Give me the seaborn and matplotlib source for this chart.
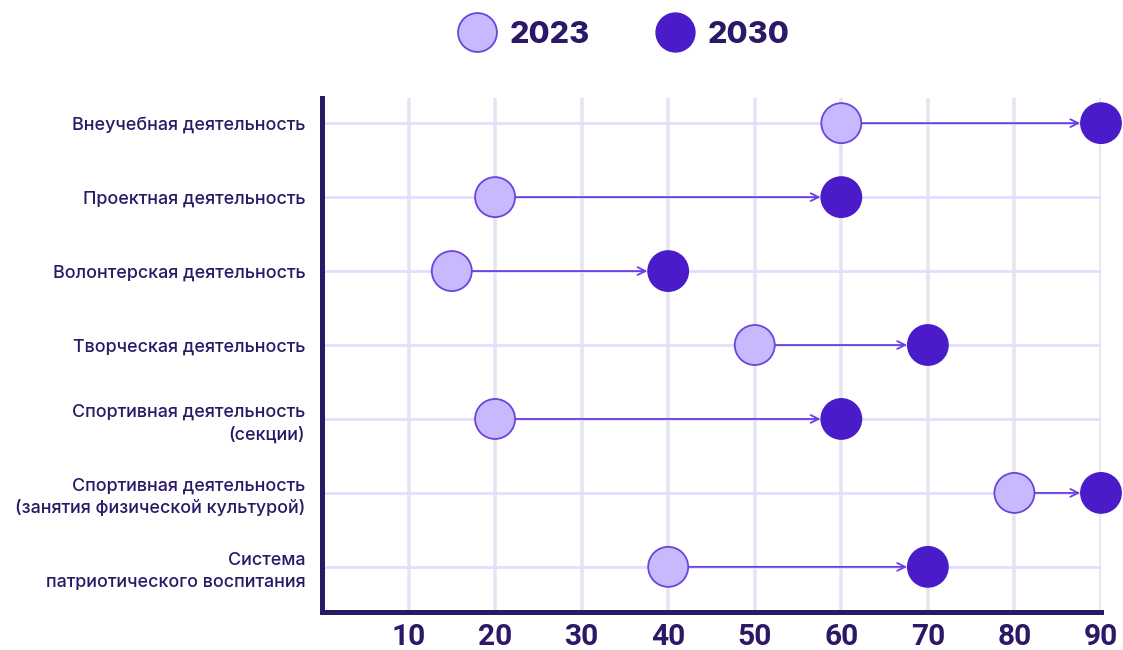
import pandas as pd
import matplotlib.pyplot as plt
import seaborn as sns
from matplotlib.lines import Line2D

categories = [
    "Внеучебная деятельность",
    "Проектная деятельность",
    "Волонтерская деятельность",
    "Творческая деятельность",
    "Спортивная деятельность\n(секции)",
    "Спортивная деятельность\n(занятия физической культурой)",
    "Система\nпатриотического воспитания",
]
values_2023 = [60, 20, 15, 50, 20, 80, 40]
values_2030 = [90, 60, 40, 70, 60, 90, 70]
x_ticks = [10, 20, 30, 40, 50, 60, 70, 80, 90]

dark = "#2b1866"
light_fill = "#c8b9ff"
light_edge = "#6a45dc"
dark_fill = "#4a1bc8"
arrow_col = "#6a3fe0"

sns.set_theme(style="white")
plt.rcParams["font.family"] = ["Inter", "DejaVu Sans"]

df = pd.DataFrame({
    "category": categories * 2,
    "value": values_2023 + values_2030,
    "year": ["2023"] * len(categories) + ["2030"] * len(categories),
})
df["pos"] = df["category"].map({c: i for i, c in enumerate(categories)})

fig = plt.figure(figsize=(11.23, 6.5), dpi=100)
ax = fig.add_axes([0.2867, 0.0585, 0.6937, 0.7907])

# grid
for t in x_ticks:
    ax.axvline(t, color="#e7e4f1", lw=2.6, zorder=0)
for i in range(len(categories)):
    ax.plot([0, 90], [i, i], color="#e4ddff", lw=2, zorder=0.5)

# arrows
for i, (a, b) in enumerate(zip(values_2023, values_2030)):
    ax.annotate("", xy=(b, i), xytext=(a, i),
                arrowprops=dict(arrowstyle="->", color=arrow_col, lw=1.3,
                                shrinkA=14, shrinkB=15, mutation_scale=14),
                zorder=2)

sns.scatterplot(data=df, x="value", y="pos", hue="year",
                palette={"2023": light_fill, "2030": dark_fill},
                s=830, edgecolor=None, linewidth=0, legend=False,
                clip_on=False, zorder=3, ax=ax)
# edge for 2023 circles
coll = ax.collections[-1]
edges = [light_edge if y == "2023" else dark_fill for y in df["year"]]
coll.set_edgecolors(edges)
coll.set_linewidths(1.3)

ax.set_xlim(0, 90)
ax.set_ylim(len(categories) - 1 + 0.61, -0.34)
ax.set_xticks(x_ticks)
ax.set_xticklabels([str(t) for t in x_ticks], fontsize=21.5, fontweight="bold",
                   color=dark, family=["Roboto", "DejaVu Sans"])
ax.set_yticks(range(len(categories)))
ax.set_yticklabels(categories, fontsize=12.9, color=dark, ha="right",
                   fontweight="medium", linespacing=1.4)
ax.tick_params(axis="x", length=0, pad=8)
ax.tick_params(axis="y", length=0, pad=12)
ax.set_xlabel("")
ax.set_ylabel("")

for s in ["top", "right"]:
    ax.spines[s].set_visible(False)
for s in ["left", "bottom"]:
    ax.spines[s].set_color(dark)
    ax.spines[s].set_linewidth(3.6)
    ax.spines[s].set_capstyle("projecting")

handles = [
    Line2D([], [], marker="o", ls="", ms=28, markerfacecolor=light_fill,
           markeredgecolor=light_edge, markeredgewidth=1.3),
    Line2D([], [], marker="o", ls="", ms=28, markerfacecolor=dark_fill,
           markeredgecolor=dark_fill),
]
leg = fig.legend(handles, ["2023", "2030"], loc="center",
                 bbox_to_anchor=(624 / 1123, 1 - 35 / 650), ncol=2,
                 frameon=False, handlelength=1.2, handletextpad=0.45,
                 columnspacing=2.2,
                 prop={"size": 22, "weight": "heavy", "family": ["Inter", "DejaVu Sans"]})
for t in leg.get_texts():
    t.set_color(dark)

fig.savefig("out.png", dpi=100)
